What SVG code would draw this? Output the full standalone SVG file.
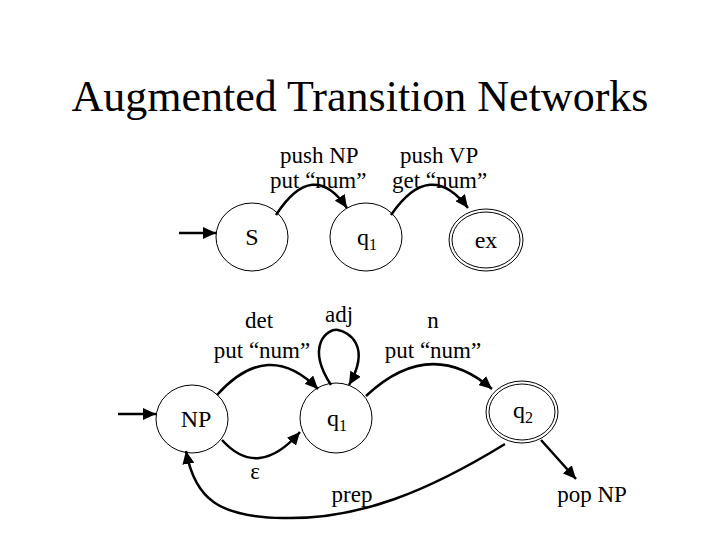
<svg xmlns="http://www.w3.org/2000/svg" width="720" height="540" viewBox="0 0 720 540">
<style>
text{font-family:"Liberation Serif","Times New Roman",serif;fill:#000}
.lbl{font-size:23px}
.node{font-size:24px;text-anchor:middle}
.sub{font-size:16px}
.st{fill:none;stroke:#000;stroke-width:1}
.edge{fill:none;stroke:#000;stroke-width:2.5}
</style>
<defs>
<marker id="ah" markerUnits="userSpaceOnUse" markerWidth="14" markerHeight="12" viewBox="0 0 14 12" refX="13" refY="6" orient="auto">
<path d="M0,0 L13,6 L0,12 Z" fill="#000"/>
</marker>
</defs>
<rect width="720" height="540" fill="#fff"/>
<text x="360" y="111" font-size="44" text-anchor="middle">Augmented Transition Networks</text>

<g id="S"><ellipse class="st" cx="252" cy="237" rx="36" ry="34"/><text class="node" x="252" y="245">S</text></g>
<g id="q1top"><ellipse class="st" cx="366" cy="237" rx="36" ry="34"/><text x="357" y="245" font-size="24">q<tspan class="sub" dy="5">1</tspan></text></g>
<g id="ex"><ellipse class="st" cx="486" cy="240" rx="37" ry="31"/><ellipse class="st" cx="486" cy="240" rx="34" ry="28"/><text class="node" x="486" y="248">ex</text></g>

<g id="NP"><ellipse class="st" cx="192" cy="419" rx="36" ry="34"/><text class="node" x="196" y="427">NP</text></g>
<g id="q1bot"><ellipse class="st" cx="336" cy="418" rx="36" ry="35"/><text x="327" y="426" font-size="24">q<tspan class="sub" dy="5">1</tspan></text></g>
<g id="q2"><ellipse class="st" cx="522" cy="412" rx="36" ry="31"/><ellipse class="st" cx="522" cy="412" rx="33" ry="28"/><text x="513" y="418" font-size="24">q<tspan class="sub" dy="5">2</tspan></text></g>

<g id="connectors">
<path class="edge" d="M179,233 L216,233" marker-end="url(#ah)"/>
<path class="edge" d="M276,215 Q313,158 347,208" marker-end="url(#ah)"/>
<path class="edge" d="M391,215 Q430,158 468,208" marker-end="url(#ah)"/>
<path class="edge" d="M118,414 L156,414" marker-end="url(#ah)"/>
<path class="edge" d="M217,395 Q268,338 318,389" marker-end="url(#ah)"/>
<path class="edge" d="M331,385 C305,345 328,328 338,330 C348,332 372,345 349,385" marker-end="url(#ah)"/>
<path class="edge" d="M366,396 Q430,336 492,389" marker-end="url(#ah)"/>
<path class="edge" d="M222,440 Q258,480 300,432" marker-end="url(#ah)"/>
<path class="edge" d="M505,444 C430,490 360,520 283,518 C220,517 195,500 186,451" marker-end="url(#ah)"/>
<path class="edge" d="M541,440 L576,479" marker-end="url(#ah)"/>
</g>

<g id="labels">
<text class="lbl" x="280" y="163">push NP</text>
<text class="lbl" x="270" y="188">put “num”</text>
<text class="lbl" x="400" y="163">push VP</text>
<text class="lbl" x="392" y="188">get “num”</text>
<text class="lbl" x="259" y="328" text-anchor="middle">det</text>
<text class="lbl" x="262" y="358" text-anchor="middle">put “num”</text>
<text class="lbl" x="339" y="322" text-anchor="middle">adj</text>
<text class="lbl" x="433" y="328" text-anchor="middle">n</text>
<text class="lbl" x="433" y="358" text-anchor="middle">put “num”</text>
<text class="lbl" x="255" y="479" text-anchor="middle">ε</text>
<text class="lbl" x="352" y="502" text-anchor="middle">prep</text>
<text class="lbl" x="592" y="502" text-anchor="middle">pop NP</text>
</g>
</svg>
